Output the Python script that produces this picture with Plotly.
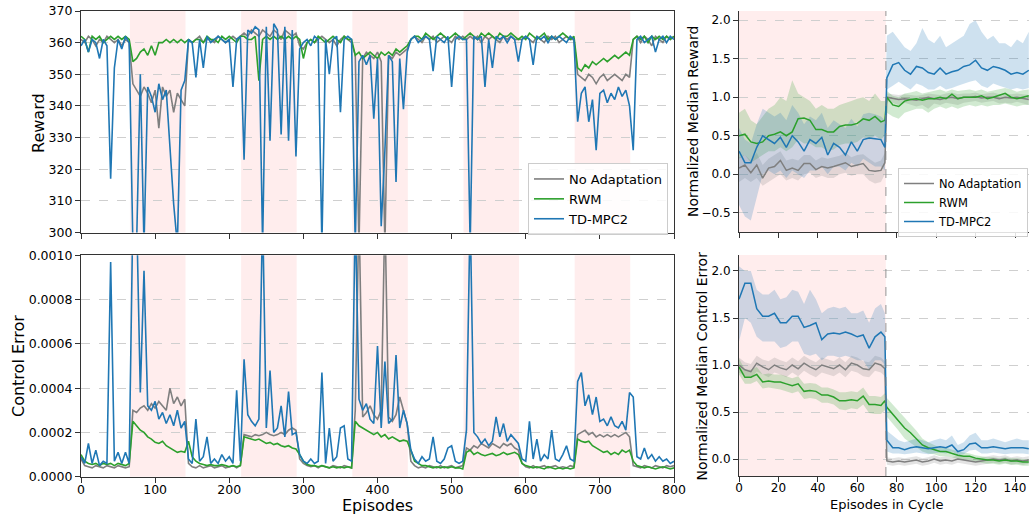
import numpy as np
import plotly.graph_objects as go

# ---------------- data: left panels (sampled every 5 episodes) ----------------
episodes = list(range(0, 801, 5))

reward_no_adapt = [
    361, 360, 362, 361, 359, 361, 360, 362, 361, 360, 361, 359, 361, 360,
    347, 345, 343, 346, 344, 341, 345, 333, 346, 343, 345, 338, 344, 342, 340,
    361, 360, 361, 362, 360, 361, 361, 360, 362, 361, 360, 361, 362, 361, 362,
    363, 362, 364, 363, 362, 364, 363, 362, 364, 363, 361, 364, 363, 362, 363,
    359, 358, 360, 361, 360, 361, 362, 361, 360, 361, 359, 361, 362, 361, 360,
    356, 296, 355, 357, 356, 355, 357, 354, 296, 356, 355, 357, 356, 357, 358,
    361, 362, 361, 360, 362, 361, 362, 360, 361, 362, 361, 360, 362, 361, 362,
    361, 362, 361, 362, 360, 362, 361, 362, 361, 360, 362, 361, 362, 361, 361,
    361, 362, 361, 360, 362, 361, 360, 362, 361, 362, 360, 361, 362, 361, 361,
    350, 349, 348, 350, 349, 347, 349, 350, 348, 349, 350, 349, 348, 350, 349,
    361, 362, 360, 362, 361, 359, 362, 361, 360, 362, 361, 362,
]
reward_rwm = [
    362, 361, 357, 362, 361, 362, 360, 361, 362, 361, 362, 361, 362, 361,
    354, 355, 357, 358, 356, 359, 356, 360, 360, 361, 360, 361, 360, 361, 360,
    361, 360, 361, 361, 360, 362, 361, 361, 360, 362, 361, 362, 361, 360, 362,
    362, 361, 361, 362, 348, 361, 362, 361, 362, 361, 362, 361, 362, 361, 362,
    361, 355, 360, 361, 360, 362, 361, 360, 361, 362, 361, 360, 362, 361, 361,
    356, 357, 355, 356, 357, 356, 355, 357, 356, 357, 356, 358, 357, 358, 359,
    361, 362, 362, 361, 363, 362, 361, 362, 363, 362, 361, 362, 363, 362, 361,
    362, 363, 362, 361, 363, 362, 363, 362, 361, 363, 362, 362, 363, 362, 361,
    362, 361, 363, 362, 361, 362, 363, 361, 362, 361, 362, 363, 362, 361, 362,
    352, 351, 353, 352, 354, 353, 354, 355, 354, 355, 356, 355, 356, 357, 356,
    361, 362, 361, 362, 360, 362, 361, 362, 361, 362, 361, 362,
]
reward_tdmpc2 = [
    359, 361, 357, 361, 360, 355, 361, 359, 317, 352, 361, 358, 362, 360,
    296, 296, 350, 296, 346, 343, 338, 347, 342, 345, 327, 309, 296, 345, 348,
    361, 360, 349, 361, 352, 362, 360, 361, 362, 361, 360, 361, 346, 361, 362,
    323, 364, 363, 365, 364, 296, 365, 329, 366, 364, 331, 365, 329, 364, 324,
    358, 360, 361, 359, 362, 361, 296, 361, 350, 361, 362, 338, 361, 362, 361,
    296, 354, 356, 353, 356, 336, 355, 302, 326, 356, 354, 316, 355, 339, 357,
    361, 362, 360, 361, 362, 361, 351, 362, 361, 360, 362, 346, 361, 362, 361,
    361, 296, 362, 361, 362, 346, 361, 352, 362, 361, 362, 360, 362, 361, 354,
    361, 362, 361, 353, 362, 361, 362, 360, 362, 361, 362, 361, 360, 362, 361,
    335, 344, 346, 335, 342, 326, 344, 345, 341, 344, 342, 346, 343, 345, 340,
    326, 361, 362, 360, 361, 362, 357, 361, 362, 360, 362, 361,
]

# control error, in units of 1e-4
ctrl_err_no_adapt_e4 = [
    0.8, 0.5, 0.45, 0.4, 0.5, 0.45, 0.4, 0.5, 0.45, 0.4, 0.5, 0.45, 0.4, 0.45,
    3.0, 2.9, 3.1, 3.2, 3.0, 3.3, 3.1, 3.4, 3.2, 3.0, 4.0, 3.3, 3.6, 3.2, 3.5,
    0.6, 0.45, 0.4, 0.5, 0.4, 0.45, 0.5, 0.4, 0.45, 0.5, 0.4, 0.45, 0.5, 0.4, 0.5,
    1.9, 1.85, 1.8, 1.9, 1.85, 1.9, 2.0, 1.9, 1.85, 1.9, 2.0, 1.9, 2.1, 2.2, 2.1,
    0.8, 0.6, 0.5, 0.45, 0.5, 0.4, 0.5, 0.45, 0.4, 0.5, 0.45, 0.4, 0.5, 0.45, 0.4,
    3.0, 12, 2.7, 2.9, 3.2, 2.8, 2.6, 3.0, 12, 2.7, 2.5, 2.8, 3.6, 3.0, 2.4,
    0.7, 0.5, 0.4, 0.45, 0.4, 0.5, 0.45, 0.4, 0.5, 0.4, 0.45, 0.5, 0.4, 0.45, 0.5,
    1.3, 1.2, 1.4, 1.3, 1.5, 1.4, 1.3, 1.5, 1.4, 1.3, 1.5, 1.4, 1.5, 1.3, 1.2,
    0.6, 0.45, 0.4, 0.5, 0.4, 0.45, 0.5, 0.4, 0.45, 0.5, 0.4, 0.45, 0.4, 0.5, 0.45,
    1.9, 2.0, 2.1, 1.9, 2.0, 1.8, 1.9, 1.8, 1.9, 1.8, 1.9, 1.8, 1.9, 2.0, 1.8,
    0.5, 0.45, 0.4, 0.5, 0.45, 0.4, 0.5, 0.45, 0.4, 0.5, 0.45, 0.5,
]
ctrl_err_rwm_e4 = [
    1.0, 0.7, 0.6, 0.55, 0.6, 0.5, 0.6, 0.55, 0.6, 0.5, 0.6, 0.55, 0.5, 0.6,
    2.5, 2.3, 2.1, 2.0, 1.8, 1.7, 1.55, 1.5, 1.6, 1.4, 1.3, 1.2, 1.1, 1.15, 1.1,
    1.6, 0.9, 0.7, 0.6, 0.55, 0.5, 0.55, 0.5, 0.5, 0.55, 0.5, 0.45, 0.5, 0.45, 0.5,
    1.8, 1.75, 1.7, 1.65, 1.7, 1.6, 1.5, 1.55, 1.45, 1.5, 1.4, 1.35, 1.4, 1.3, 1.25,
    1.0, 0.7, 0.55, 0.5, 0.5, 0.45, 0.5, 0.45, 0.4, 0.45, 0.4, 0.45, 0.4, 0.45, 0.4,
    2.5, 2.3, 2.2, 2.1, 2.0, 1.9, 2.0, 1.8, 1.9, 1.7, 1.8, 1.7, 1.6, 1.65, 1.6,
    1.2, 0.7, 0.6, 0.5, 0.5, 0.45, 0.4, 0.45, 0.4, 0.45, 0.4, 0.45, 0.4, 0.4, 0.35,
    1.1, 1.2, 1.0, 1.1, 1.0, 0.95, 1.0, 1.05, 0.95, 1.0, 1.1, 1.0, 1.05, 1.1, 1.0,
    0.6, 0.5, 0.45, 0.4, 0.45, 0.4, 0.35, 0.45, 0.4, 0.35, 0.4, 0.35, 0.4, 0.35, 0.4,
    1.7, 1.6, 1.55, 1.6, 1.4, 1.3, 1.2, 1.1, 1.15, 1.0, 1.1, 1.0, 1.2, 1.1, 1.2,
    0.7, 0.5, 0.45, 0.4, 0.45, 0.4, 0.35, 0.4, 0.45, 0.4, 0.35, 0.4,
]
ctrl_err_tdmpc2_e4 = [
    0.9, 0.6, 1.5, 0.6, 1.2, 0.5, 0.7, 0.6, 9.7, 0.7, 1.1, 0.6, 1.1, 0.6,
    12, 12, 3.8, 9.3, 3.2, 3.0, 3.4, 2.6, 2.9, 2.4, 2.8, 2.3, 3.0, 2.2, 2.5,
    0.8, 0.6, 2.6, 0.7, 0.9, 1.8, 0.6, 0.8, 0.6, 1.0, 0.7, 0.9, 0.6, 3.9, 0.7,
    5.3, 2.8, 2.5, 2.3, 2.6, 12, 2.2, 4.8, 2.0, 2.2, 3.2, 1.8, 3.85, 1.9, 2.0,
    1.0, 0.7, 0.6, 0.8, 0.6, 0.7, 4.7, 0.6, 2.2, 0.7, 0.9, 2.2, 2.3, 0.8, 0.7,
    12, 3.5, 3.0, 3.3, 2.6, 2.4, 5.9, 2.2, 5.2, 2.4, 2.6, 5.5, 2.2, 3.0, 2.4,
    1.2, 0.8, 0.6, 0.9, 0.7, 0.8, 1.8, 0.7, 0.6, 0.8, 1.3, 1.4, 0.7, 0.6, 0.7,
    2.1, 12, 2.0, 1.8, 1.5, 1.7, 1.4, 1.6, 2.7, 1.8, 2.4, 1.6, 1.9, 1.7, 1.5,
    0.8, 0.7, 2.5, 0.8, 1.7, 0.7, 1.0, 0.8, 2.1, 0.8, 0.7, 1.0, 1.4, 0.8, 0.7,
    4.3, 4.7, 3.2, 3.7, 2.8, 3.6, 2.5, 2.6, 2.3, 2.7, 2.3, 2.2, 2.5, 2.1, 3.8,
    3.6, 0.9, 0.8, 1.3, 0.8, 1.0, 0.7, 0.9, 0.7, 0.8, 0.6, 0.7,
]

disturbance_starts = [66, 216, 366, 516, 666]
disturbance_length = 75

# ---------------- data: right panels (episodes within a cycle) ----------------
cycle_eps = list(range(0, 73, 3)) + [74] + list(range(75, 148, 3))
cycle_switch = 74.5

nrew_no_adapt_med = [0.08, 0.12, 0.02, 0.12, -0.05, 0.08, 0.10, 0.18, 0.05, 0.08, 0.05, 0.14, 0.14,
                     0.06, 0.10, 0.08, 0.10, 0.12, 0.15, 0.10, 0.12, 0.14, 0.05, 0.04, 0.05, 0.15,
                     1.00, 0.98, 0.97, 0.98, 0.97, 0.96, 0.98, 1.00, 0.98, 0.97, 0.99, 1.00, 0.98,
                     1.00, 1.00, 1.01, 0.99, 1.00, 1.00, 0.98, 1.00, 0.99, 1.00, 0.98, 0.97]
nrew_no_adapt_lo = [-0.10, -0.05, -0.10, -0.05, -0.15, -0.10, -0.05, 0.00, -0.08, -0.05, -0.08, 0.00, 0.02,
                    -0.05, -0.02, -0.05, -0.05, 0.00, 0.02, -0.02, 0.00, 0.00, -0.08, -0.12, -0.10, 0.00,
                    0.95, 0.92, 0.90, 0.93, 0.90, 0.88, 0.90, 0.85, 0.92, 0.90, 0.93, 0.92, 0.90,
                    0.93, 0.94, 0.95, 0.93, 0.94, 0.95, 0.92, 0.93, 0.92, 0.94, 0.92, 0.90]
nrew_no_adapt_hi = [0.22, 0.25, 0.18, 0.28, 0.12, 0.20, 0.25, 0.30, 0.18, 0.20, 0.18, 0.25, 0.25,
                    0.18, 0.22, 0.20, 0.22, 0.24, 0.28, 0.22, 0.25, 0.26, 0.20, 0.15, 0.18, 0.28,
                    1.05, 1.04, 1.03, 1.04, 1.03, 1.02, 1.03, 1.05, 1.04, 1.03, 1.05, 1.06, 1.04,
                    1.05, 1.05, 1.06, 1.04, 1.05, 1.06, 1.04, 1.05, 1.04, 1.05, 1.04, 1.03]

nrew_rwm_med = [0.50, 0.52, 0.42, 0.40, 0.42, 0.50, 0.52, 0.55, 0.50, 0.55, 0.72, 0.73, 0.70,
                0.58, 0.58, 0.55, 0.55, 0.62, 0.64, 0.64, 0.66, 0.72, 0.70, 0.75, 0.68, 0.70,
                1.00, 0.90, 0.88, 0.95, 0.97, 0.98, 0.96, 0.98, 0.98, 1.00, 0.98, 1.04, 0.98,
                1.00, 1.00, 1.00, 1.02, 0.98, 1.00, 1.02, 1.05, 1.00, 0.98, 1.00, 1.02]
nrew_rwm_lo = [0.20, 0.25, 0.15, 0.20, 0.25, 0.30, 0.30, 0.35, 0.30, 0.35, 0.45, 0.40, 0.40,
               0.35, 0.35, 0.30, 0.32, 0.38, 0.40, 0.40, 0.42, 0.48, 0.45, 0.50, 0.45, 0.50,
               0.80, 0.75, 0.72, 0.80, 0.82, 0.85, 0.85, 0.80, 0.85, 0.88, 0.85, 0.88, 0.85,
               0.88, 0.90, 0.88, 0.90, 0.88, 0.90, 0.90, 0.92, 0.90, 0.88, 0.90, 0.90]
nrew_rwm_hi = [0.80, 0.85, 0.70, 0.65, 0.75, 0.85, 0.90, 1.00, 0.95, 1.22, 1.05, 1.00, 0.95,
               0.85, 0.90, 0.85, 0.85, 0.90, 0.92, 0.95, 0.98, 1.00, 0.95, 1.05, 0.95, 0.95,
               1.08, 1.02, 1.00, 1.05, 1.06, 1.08, 1.05, 1.07, 1.08, 1.10, 1.07, 1.10, 1.08,
               1.09, 1.10, 1.08, 1.10, 1.07, 1.09, 1.10, 1.12, 1.10, 1.07, 1.09, 1.10]

nrew_tdmpc2_med = [0.30, 0.15, 0.15, 0.35, 0.50, 0.45, 0.40, 0.48, 0.35, 0.50, 0.42, 0.30, 0.45,
                   0.40, 0.48, 0.25, 0.40, 0.35, 0.25, 0.42, 0.30, 0.45, 0.47, 0.46, 0.45, 0.35,
                   1.25, 1.42, 1.45, 1.35, 1.30, 1.40, 1.38, 1.32, 1.30, 1.38, 1.30, 1.33, 1.35,
                   1.40, 1.42, 1.48, 1.38, 1.35, 1.40, 1.38, 1.35, 1.30, 1.32, 1.30, 1.35]
nrew_tdmpc2_lo = [-0.40, -0.55, -0.60, -0.30, 0.00, 0.05, 0.00, 0.05, -0.05, 0.05, 0.00, -0.05, 0.05,
                  0.05, 0.10, 0.00, 0.10, 0.10, 0.05, 0.15, 0.10, 0.20, 0.15, 0.10, 0.10, 0.05,
                  1.10, 1.15, 1.20, 1.15, 1.10, 1.18, 1.15, 1.10, 1.10, 1.15, 1.10, 1.12, 1.15,
                  1.18, 1.20, 1.22, 1.15, 1.12, 1.18, 1.15, 1.12, 1.10, 1.12, 1.10, 1.12]
nrew_tdmpc2_hi = [0.60, 0.45, 0.40, 0.65, 0.85, 0.80, 0.75, 0.80, 0.70, 0.90, 0.80, 0.65, 0.75,
                  0.70, 0.80, 0.60, 0.70, 0.65, 0.60, 0.72, 0.62, 0.78, 0.80, 0.78, 0.75, 0.70,
                  1.80, 1.85, 1.75, 1.65, 1.60, 1.70, 1.90, 1.75, 1.70, 1.80, 1.65, 1.70, 1.75,
                  1.80, 1.95, 2.00, 1.85, 1.75, 1.80, 1.70, 1.70, 1.65, 1.75, 1.70, 1.85]

nerr_no_adapt_med = [1.00, 0.95, 0.93, 1.02, 0.98, 0.95, 1.00, 0.97, 0.95, 1.00, 0.96, 1.02, 0.98,
                     0.95, 1.00, 0.98, 0.96, 1.00, 0.95, 1.02, 1.00, 0.96, 0.95, 1.02, 1.00, 0.96,
                     -0.02, -0.03, -0.02, -0.03, -0.02, -0.01, -0.03, -0.02, 0.00, -0.02, -0.01, -0.02, 0.00,
                     -0.01, -0.02, -0.03, -0.02, -0.01, 0.00, -0.01, 0.00, -0.02, -0.01, -0.02, -0.01]
nerr_no_adapt_lo = [0.92, 0.88, 0.86, 0.93, 0.90, 0.87, 0.92, 0.90, 0.87, 0.92, 0.88, 0.94, 0.90,
                    0.87, 0.92, 0.90, 0.88, 0.92, 0.87, 0.94, 0.92, 0.88, 0.87, 0.94, 0.92, 0.88,
                    -0.06, -0.07, -0.06, -0.07, -0.06, -0.05, -0.07, -0.06, -0.04, -0.06, -0.05, -0.06, -0.04,
                    -0.05, -0.06, -0.07, -0.06, -0.05, -0.04, -0.05, -0.04, -0.06, -0.05, -0.06, -0.05]
nerr_no_adapt_hi = [1.08, 1.03, 1.01, 1.10, 1.06, 1.04, 1.08, 1.05, 1.03, 1.08, 1.04, 1.10, 1.06,
                    1.03, 1.08, 1.06, 1.04, 1.08, 1.03, 1.10, 1.08, 1.04, 1.03, 1.10, 1.08, 1.04,
                    0.02, 0.01, 0.02, 0.01, 0.02, 0.03, 0.01, 0.02, 0.04, 0.02, 0.03, 0.02, 0.04,
                    0.03, 0.02, 0.01, 0.02, 0.03, 0.04, 0.03, 0.04, 0.02, 0.03, 0.02, 0.03]

nerr_rwm_med = [0.98, 0.87, 0.87, 0.90, 0.82, 0.83, 0.82, 0.82, 0.80, 0.78, 0.80, 0.72, 0.73,
                0.72, 0.68, 0.68, 0.66, 0.62, 0.62, 0.63, 0.62, 0.67, 0.58, 0.58, 0.57, 0.62,
                0.55, 0.48, 0.40, 0.33, 0.28, 0.22, 0.15, 0.12, 0.10, 0.08, 0.08, 0.06, 0.04,
                0.03, 0.03, 0.01, 0.00, -0.01, -0.01, -0.02, -0.01, -0.02, -0.02, -0.03, -0.03]
nerr_rwm_lo = [0.90, 0.80, 0.80, 0.83, 0.75, 0.76, 0.75, 0.74, 0.72, 0.70, 0.72, 0.64, 0.65,
               0.64, 0.60, 0.60, 0.58, 0.53, 0.52, 0.54, 0.53, 0.58, 0.49, 0.48, 0.48, 0.52,
               0.45, 0.38, 0.30, 0.22, 0.18, 0.13, 0.08, 0.06, 0.05, 0.03, 0.03, 0.02, 0.00,
               -0.01, -0.01, -0.03, -0.04, -0.05, -0.05, -0.06, -0.05, -0.06, -0.06, -0.07, -0.07]
nerr_rwm_hi = [1.07, 0.95, 0.95, 0.98, 0.90, 0.91, 0.90, 0.90, 0.88, 0.86, 0.88, 0.80, 0.81,
               0.80, 0.76, 0.76, 0.74, 0.71, 0.71, 0.72, 0.71, 0.76, 0.67, 0.67, 0.66, 0.70,
               0.65, 0.58, 0.52, 0.45, 0.38, 0.30, 0.22, 0.18, 0.15, 0.12, 0.12, 0.10, 0.08,
               0.07, 0.06, 0.04, 0.03, 0.02, 0.02, 0.01, 0.02, 0.01, 0.01, 0.00, 0.00]

nerr_tdmpc2_med = [1.70, 1.87, 1.87, 1.60, 1.52, 1.52, 1.55, 1.45, 1.45, 1.52, 1.52, 1.40, 1.42,
                   1.45, 1.27, 1.33, 1.34, 1.33, 1.35, 1.33, 1.30, 1.32, 1.18, 1.30, 1.35, 1.30,
                   0.20, 0.12, 0.12, 0.10, 0.12, 0.13, 0.12, 0.11, 0.12, 0.13, 0.12, 0.15, 0.08,
                   0.10, 0.16, 0.17, 0.12, 0.12, 0.13, 0.12, 0.11, 0.12, 0.12, 0.12, 0.11]
nerr_tdmpc2_lo = [1.25, 1.50, 1.45, 1.30, 1.25, 1.25, 1.25, 1.18, 1.20, 1.25, 1.25, 1.12, 1.10,
                  1.12, 1.05, 1.10, 1.10, 1.08, 1.10, 1.08, 1.05, 1.05, 0.95, 1.05, 1.05, 1.00,
                  0.08, 0.06, 0.06, 0.05, 0.06, 0.07, 0.06, 0.05, 0.06, 0.07, 0.06, 0.08, 0.04,
                  0.05, 0.09, 0.10, 0.06, 0.06, 0.07, 0.06, 0.05, 0.06, 0.06, 0.06, 0.05]
nerr_tdmpc2_hi = [2.05, 2.00, 2.00, 1.80, 1.75, 1.75, 1.80, 1.70, 1.72, 1.80, 1.78, 1.65, 1.80,
                  1.70, 1.55, 1.60, 1.62, 1.60, 1.62, 1.55, 1.55, 1.58, 1.45, 1.60, 1.65, 1.55,
                  0.30, 0.25, 0.20, 0.18, 0.20, 0.22, 0.20, 0.18, 0.20, 0.22, 0.20, 0.25, 0.15,
                  0.18, 0.25, 0.28, 0.20, 0.20, 0.22, 0.20, 0.18, 0.20, 0.22, 0.20, 0.20]

methods = ["No Adaptation", "RWM", "TD-MPC2"]
colors = ["#7f7f7f", "#2ca02c", "#1f77b4"]
band_colors = ["rgba(127,127,127,0.22)", "rgba(44,160,44,0.22)", "rgba(31,119,180,0.22)"]

for arr in (reward_no_adapt, reward_rwm, reward_tdmpc2,
            ctrl_err_no_adapt_e4, ctrl_err_rwm_e4, ctrl_err_tdmpc2_e4):
    assert len(arr) == len(episodes), len(arr)
for arr in (nrew_no_adapt_med, nrew_no_adapt_lo, nrew_no_adapt_hi, nrew_rwm_med, nrew_rwm_lo, nrew_rwm_hi,
            nrew_tdmpc2_med, nrew_tdmpc2_lo, nrew_tdmpc2_hi, nerr_no_adapt_med, nerr_no_adapt_lo,
            nerr_no_adapt_hi, nerr_rwm_med, nerr_rwm_lo, nerr_rwm_hi, nerr_tdmpc2_med, nerr_tdmpc2_lo,
            nerr_tdmpc2_hi):
    assert len(arr) == len(cycle_eps), len(arr)

# ---------------- figure ----------------
W, H = 1029, 514
FONT = "DejaVu Sans"
fig = go.Figure()

rewards = [reward_no_adapt, reward_rwm, reward_tdmpc2]
errors = [ctrl_err_no_adapt_e4, ctrl_err_rwm_e4, ctrl_err_tdmpc2_e4]
for name, c, r, e in zip(methods, colors, rewards, errors):
    fig.add_trace(go.Scatter(x=episodes, y=r, mode="lines", name=name,
                             line=dict(color=c, width=1.6), xaxis="x", yaxis="y", legend="legend"))
    fig.add_trace(go.Scatter(x=episodes, y=np.array(e) * 1e-4, mode="lines", name=name,
                             line=dict(color=c, width=1.6), xaxis="x2", yaxis="y2", showlegend=False))

nrew = [(nrew_no_adapt_med, nrew_no_adapt_lo, nrew_no_adapt_hi),
        (nrew_rwm_med, nrew_rwm_lo, nrew_rwm_hi),
        (nrew_tdmpc2_med, nrew_tdmpc2_lo, nrew_tdmpc2_hi)]
nerr = [(nerr_no_adapt_med, nerr_no_adapt_lo, nerr_no_adapt_hi),
        (nerr_rwm_med, nerr_rwm_lo, nerr_rwm_hi),
        (nerr_tdmpc2_med, nerr_tdmpc2_lo, nerr_tdmpc2_hi)]

for (med, lo, hi), name, c, bc in zip(nrew, methods, colors, band_colors):
    fig.add_trace(go.Scatter(x=cycle_eps + cycle_eps[::-1], y=hi + lo[::-1], fill="toself",
                             fillcolor=bc, line=dict(width=0), mode="lines", hoverinfo="skip",
                             showlegend=False, xaxis="x3", yaxis="y3"))
for (med, lo, hi), name, c, bc in zip(nrew, methods, colors, band_colors):
    fig.add_trace(go.Scatter(x=cycle_eps, y=med, mode="lines", name=name,
                             line=dict(color=c, width=1.5), xaxis="x3", yaxis="y3", legend="legend2"))

for (med, lo, hi), name, c, bc in zip(nerr, methods, colors, band_colors):
    fig.add_trace(go.Scatter(x=cycle_eps + cycle_eps[::-1], y=hi + lo[::-1], fill="toself",
                             fillcolor=bc, line=dict(width=0), mode="lines", hoverinfo="skip",
                             showlegend=False, xaxis="x4", yaxis="y4"))
for (med, lo, hi), name, c, bc in zip(nerr, methods, colors, band_colors):
    fig.add_trace(go.Scatter(x=cycle_eps, y=med, mode="lines", name=name,
                             line=dict(color=c, width=1.5), xaxis="x4", yaxis="y4", showlegend=False))

# domains from pixel geometry
def fx(p):
    return p / W

def fy(p):
    return 1 - p / H

LX = [fx(81), fx(674)]
RX = [fx(739), 1.0]
TOPY = [fy(232.5), fy(11)]
BOTY = [fy(476.7), fy(255.3)]

axis_common = dict(ticks="outside", ticklen=5, tickwidth=1, tickcolor="#333",
                   linecolor="#333", linewidth=1.1, showline=True, zeroline=False, automargin=False)
left_font = dict(tickfont=dict(family=FONT, size=12.5, color="black"))
right_font = dict(tickfont=dict(family=FONT, size=12, color="black"))
grid = dict(showgrid=True, gridcolor="#cfcfcf", gridwidth=0.8, griddash="dash")

fig.update_layout(
    width=W, height=H, margin=dict(l=0, r=0, t=0, b=0, autoexpand=False),
    paper_bgcolor="white", plot_bgcolor="white",
    font=dict(family=FONT, color="black"),
    xaxis=dict(domain=LX, anchor="y", range=[0, 800], tickvals=list(range(0, 801, 100)),
               showticklabels=False, mirror=True, showgrid=False, **axis_common, **left_font),
    yaxis=dict(domain=TOPY, anchor="x", range=[300, 370], tickvals=list(range(300, 371, 10)),
               mirror=True, **grid, **axis_common, **left_font),
    xaxis2=dict(domain=LX, anchor="y2", range=[0, 800], tickvals=list(range(0, 801, 100)),
                mirror=True, showgrid=False, ticklabelstandoff=-4, **axis_common, **left_font),
    yaxis2=dict(domain=BOTY, anchor="x2", range=[0, 0.001],
                tickvals=[0, 0.0002, 0.0004, 0.0006, 0.0008, 0.001], tickformat=".4f",
                mirror=True, **grid, **axis_common, **left_font),
    xaxis3=dict(domain=RX, anchor="y3", range=[0, 147.1], tickvals=list(range(0, 141, 20)),
                showticklabels=False, showgrid=False, **axis_common, **right_font),
    yaxis3=dict(domain=[fy(232), fy(11)], anchor="x3", range=[-0.75, 2.12],
                tickvals=[-0.5, 0, 0.5, 1.0, 1.5, 2.0], tickformat=".1f", **grid, **axis_common,
                **right_font),
    xaxis4=dict(domain=RX, anchor="y4", range=[0, 147.1], tickvals=list(range(0, 141, 20)),
                showgrid=False, ticklabelstandoff=-4, **axis_common, **right_font),
    yaxis4=dict(domain=[fy(476), fy(255)], anchor="x4", range=[-0.18, 2.17],
                tickvals=[0, 0.5, 1.0, 1.5, 2.0], tickformat=".1f", **grid, **axis_common,
                **right_font),
    legend=dict(x=fx(668), y=fy(163), xanchor="right", yanchor="top",
                bgcolor="rgba(255,255,255,0.85)", bordercolor="#cccccc", borderwidth=1,
                font=dict(family=FONT, size=13), itemwidth=30, tracegroupgap=0),
    legend2=dict(x=fx(1028), y=fy(168), xanchor="right", yanchor="top",
                 bgcolor="rgba(255,255,255,0.85)", bordercolor="#cccccc", borderwidth=1,
                 font=dict(family=FONT, size=11.5), itemwidth=30, tracegroupgap=0),
)

shapes = []
for s in disturbance_starts:
    for xr, yr in (("x", "y"), ("x2", "y2")):
        shapes.append(dict(type="rect", xref=xr, yref=yr + " domain", x0=s, x1=s + disturbance_length,
                           y0=0, y1=1, fillcolor="rgba(255,0,0,0.07)", line=dict(width=0), layer="below"))
for xr, yr in (("x3", "y3"), ("x4", "y4")):
    shapes.append(dict(type="rect", xref=xr, yref=yr + " domain", x0=0, x1=cycle_switch,
                       y0=0, y1=1, fillcolor="rgba(255,0,0,0.07)", line=dict(width=0), layer="below"))
    shapes.append(dict(type="line", xref=xr, yref=yr + " domain", x0=cycle_switch, x1=cycle_switch,
                       y0=0, y1=1, line=dict(color="rgba(128,128,128,0.7)", width=1.2, dash="dash")))
fig.update_layout(shapes=shapes)

ann = [
    dict(text="Reward", x=fx(38), y=fy(123), textangle=-90, size=16),
    dict(text="Control Error", x=fx(18), y=fy(366), textangle=-90, size=16),
    dict(text="Episodes", x=fx(377), y=fy(505), textangle=0, size=16),
    dict(text="Normalized Median Reward", x=fx(693), y=fy(122), textangle=-90, size=14),
    dict(text="Normalized Median Control Error", x=fx(701.5), y=fy(366), textangle=-90, size=14),
    dict(text="Episodes in Cycle", x=fx(886.5), y=fy(504), textangle=0, size=13),
]
for a in ann:
    fig.add_annotation(text=a["text"], x=a["x"], y=a["y"], xref="paper", yref="paper",
                       xanchor="center", yanchor="middle", textangle=a["textangle"],
                       showarrow=False, font=dict(family=FONT, size=a["size"], color="black"))

fig.write_html("out.html")
